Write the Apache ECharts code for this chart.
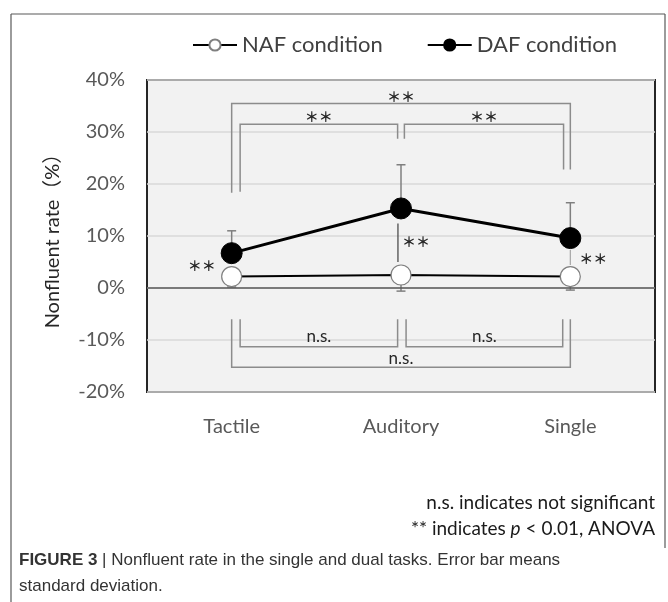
<!DOCTYPE html>
<html>
<head>
<meta charset="utf-8">
<script src="https://cdn.jsdelivr.net/npm/echarts@6/dist/echarts.min.js"></script>
<style>html,body{margin:0;padding:0;background:#fff;}#c{width:668px;height:602px;}</style>
</head>
<body>
<div id="c"></div>
<script>
// ---- data ----
const categories = ['Tactile', 'Auditory', 'Single'];
const seriesNames = ['NAF condition', 'DAF condition'];
const nafMean = [2.2, 2.5, 2.2];
const nafSD = [2.0, 3.1, 2.6];
const dafMean = [6.7, 15.3, 9.6];
const dafSD = [4.3, 8.4, 6.8];
const yMin = -20, yMax = 40, yStep = 10;
// significance brackets: [xFrom, xTo, lineY, legFromEndY, legToEndY, labelY, label]
const upperBrackets = [
  [0.05, 0.98, 31.5, 18.5, 28.7, 33.0, '＊＊'],
  [1.02, 1.96, 31.5, 28.7, 22.8, 33.0, '＊＊'],
  [0.0, 2.0, 35.5, 18.3, 22.8, 36.8, '＊＊']
];
const lowerBrackets = [
  [0.05, 0.98, -11.3, -6.0, -6.0, -9.4, 'n.s.'],
  [1.03, 1.955, -11.3, -6.0, -6.0, -9.4, 'n.s.'],
  [0.0, 2.0, -15.25, -6.0, -6.0, -13.5, 'n.s.']
];
// DAF vs NAF marks at each category: [x, labelX, labelY, label, lineFromY, lineToY]
const pointMarks = [
  [0, -0.177, 4.2, '＊＊', null, null],
  [0.982, 1.089, 8.9, '＊＊', 12.4, 5.0],
  [2.0, 2.136, 5.7, '＊＊', 7.3, 4.4]
];
const footnotes = ['n.s. indicates not significant', '** indicates {i|p} < 0.01, ANOVA'];
const caption1 = '{b|FIGURE 3} | Nonfluent rate in the single and dual tasks. Error bar means';
const caption2 = 'standard deviation.';

// ---- helpers ----
const FONT = 'Lato, "Noto Sans CJK JP", sans-serif';
const AST_FONT = '"Noto Sans CJK JP", sans-serif';
const CAP_FONT = '"Liberation Sans", Arial, sans-serif';
function px(api, x, y) {
  const i = Math.round(x);
  const c = api.coord([i, y]);
  const bw = api.size([1, 0])[0];
  return [c[0] + (x - i) * bw, c[1]];
}
function bracketSeries(list, color, fontSize, font, weight) {
  return {
    type: 'custom', silent: true, z: 1, clip: false,
    data: list.map(b => [Math.round(b[0]), b[2]]),
    renderItem: function (params, api) {
      const b = list[params.dataIndex];
      const p1 = px(api, b[0], b[3]);
      const p2 = px(api, b[0], b[2]);
      const p3 = px(api, b[1], b[2]);
      const p4 = px(api, b[1], b[4]);
      const t = px(api, (b[0] + b[1]) / 2, b[5]);
      return {
        type: 'group', children: [
          { type: 'polyline', shape: { points: [p1, p2, p3, p4] }, style: { stroke: color, lineWidth: 1.5, fill: null } },
          { type: 'text', x: t[0], y: t[1], style: { text: b[6], fill: '#262626', fontSize: fontSize, fontWeight: weight, fontFamily: font, align: 'center', verticalAlign: 'middle' } }
        ]
      };
    }
  };
}
function errorSeries(mean, sd, sign) {
  return {
    type: 'custom', silent: true, z: 2, clip: false,
    data: mean.map((m, i) => [i, m]),
    renderItem: function (params, api) {
      const i = params.dataIndex;
      const a = api.coord([i, mean[i]]);
      const b = api.coord([i, mean[i] + sign * sd[i]]);
      return {
        type: 'group', children: [
          { type: 'line', shape: { x1: a[0], y1: a[1], x2: b[0], y2: b[1] }, style: { stroke: '#7f7f7f', lineWidth: 1.5 } },
          { type: 'line', shape: { x1: b[0] - 4.5, y1: b[1], x2: b[0] + 4.5, y2: b[1] }, style: { stroke: '#7f7f7f', lineWidth: 1.5 } }
        ]
      };
    }
  };
}

const chart = echarts.init(document.getElementById('c'), null, { renderer: 'canvas' });
const option = {
  animation: false,
  backgroundColor: '#ffffff',
  legend: {
    data: seriesNames,
    left: 187, top: 29,
    itemWidth: 44, itemHeight: 14, itemGap: 44,
    textStyle: { fontFamily: FONT, fontSize: 22, color: '#404040' }
  },
  grid: {
    left: 147, right: 13, top: 80, bottom: 210,
    show: true, backgroundColor: '#f2f2f2', borderColor: '#262626', borderWidth: 2
  },
  xAxis: {
    type: 'category', data: categories, boundaryGap: true,
    axisLine: { show: false, onZero: false }, axisTick: { show: false },
    axisLabel: { margin: 25, fontFamily: FONT, fontSize: 20, color: '#595959' },
    splitLine: { show: false }
  },
  yAxis: {
    type: 'value', min: yMin, max: yMax, interval: yStep,
    name: 'Nonfluent rate（%）', nameLocation: 'middle', nameRotate: 90, nameGap: 84,
    nameTextStyle: { fontFamily: FONT, fontSize: 20, color: '#262626' },
    axisLine: { show: false }, axisTick: { show: false },
    axisLabel: { margin: 22, formatter: '{value}%', fontFamily: FONT, fontSize: 20, color: '#595959' },
    splitLine: { lineStyle: { color: '#d9d9d9', width: 1.5 } }
  },
  series: [
    bracketSeries(upperBrackets, '#8c8c8c', 14, AST_FONT, 'bold'),
    bracketSeries(lowerBrackets, '#8c8c8c', 17, FONT, 'normal'),
    {
      type: 'custom', silent: true, z: 2, clip: false,
      data: pointMarks.map(m => [Math.round(m[0]), m[2]]),
      renderItem: function (params, api) {
        const m = pointMarks[params.dataIndex];
        const t = px(api, m[1], m[2]);
        const ch = [{ type: 'text', x: t[0], y: t[1], style: { text: m[3], fill: '#262626', fontSize: 14, fontWeight: 'bold', fontFamily: AST_FONT, align: 'center', verticalAlign: 'middle' } }];
        if (m[4] !== null) {
          const a = px(api, m[0], m[4]);
          const b = px(api, m[0], m[5]);
          ch.unshift({ type: 'line', shape: { x1: a[0], y1: a[1], x2: b[0], y2: b[1] }, style: { stroke: params.dataIndex === 1 ? '#404040' : '#a6a6a6', lineWidth: 1.2 } });
        }
        return { type: 'group', children: ch };
      }
    },
    errorSeries(dafMean, dafSD, 1),
    errorSeries(nafMean, nafSD, -1),
    {
      name: seriesNames[0], type: 'line', data: nafMean, z: 4,
      symbol: 'circle', symbolSize: 20,
      itemStyle: { color: '#ffffff', borderColor: '#7f7f7f', borderWidth: 1.2 },
      lineStyle: { color: '#000000', width: 2 },
      markLine: {
        silent: true, symbol: 'none', label: { show: false },
        lineStyle: { color: '#595959', width: 1.5, type: 'solid' },
        data: [{ yAxis: 0 }]
      }
    },
    {
      name: seriesNames[1], type: 'line', data: dafMean, z: 5,
      symbol: 'circle', symbolSize: 21,
      itemStyle: { color: '#000000', borderColor: '#000000', borderWidth: 1 },
      lineStyle: { color: '#000000', width: 3 }
    }
  ],
  graphic: [
    { type: 'line', shape: { x1: 11, y1: 14, x2: 665, y2: 14 }, style: { stroke: '#595959', lineWidth: 1.2 } },
    { type: 'line', shape: { x1: 11, y1: 14, x2: 11, y2: 602 }, style: { stroke: '#595959', lineWidth: 1.2 } },
    { type: 'line', shape: { x1: 665, y1: 14, x2: 665, y2: 548 }, style: { stroke: '#595959', lineWidth: 1.2 } },
    { type: 'text', right: 13, top: 493, style: { text: footnotes[0], fill: '#1a1a1a', fontSize: 19, fontFamily: FONT } },
    { type: 'text', right: 13, top: 519, style: { text: footnotes[1], fill: '#1a1a1a', fontSize: 19, fontFamily: FONT,
        rich: { i: { fontStyle: 'italic', fontSize: 19, fontFamily: FONT, fill: '#1a1a1a' } } } },
    { type: 'text', left: 19, top: 552, style: { text: caption1, fill: '#333333', fontSize: 17, fontFamily: CAP_FONT,
        rich: { b: { fontWeight: 'bold', fontSize: 17, fontFamily: CAP_FONT, fill: '#333333' } } } },
    { type: 'text', left: 19, top: 578, style: { text: caption2, fill: '#333333', fontSize: 17, fontFamily: CAP_FONT } }
  ]
};
chart.setOption(option);
</script>
</body>
</html>
